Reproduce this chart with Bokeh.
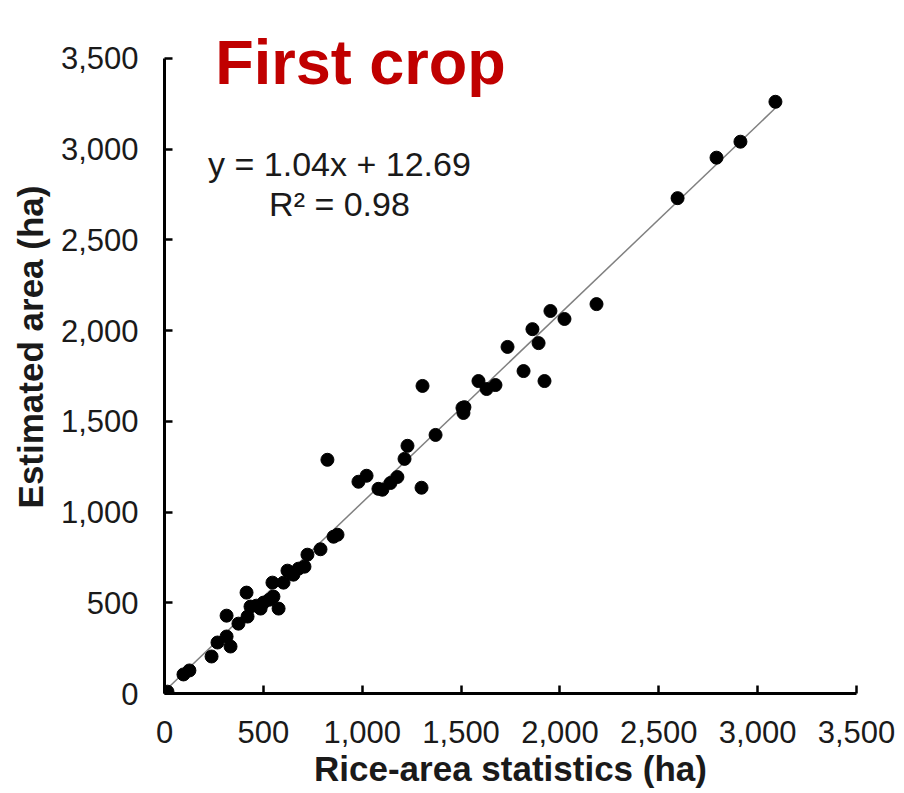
from bokeh.plotting import figure
from bokeh.models import Range1d, FixedTicker, NumeralTickFormatter, Label
from bokeh.embed import file_html
from bokeh.resources import INLINE

# Rice-area statistics (ha) vs estimated area (ha)
stat_area = [0, 15, 96, 126, 238, 268, 314, 334, 314, 374, 420, 415, 435, 465, 486, 501,
             531, 551, 577, 546, 602, 622, 652, 678, 708, 723, 789, 855, 875, 824,
             981, 1022, 1082, 1102, 1143, 1178, 1214, 1229, 1300, 1305, 1371, 1507,
             1517, 1512, 1588, 1629, 1674, 1735, 1816, 1922, 1892, 1861, 1952, 2023,
             2185, 2595, 2792, 2913, 3090]
est_area = [0, 10, 105, 127, 204, 281, 314, 259, 429, 385, 424, 556, 479, 484, 468, 501,
            517, 534, 468, 611, 611, 677, 655, 688, 699, 765, 795, 864, 875, 1288,
            1167, 1200, 1128, 1123, 1160, 1193, 1293, 1365, 1134, 1695, 1425, 1574,
            1578, 1546, 1722, 1678, 1700, 1910, 1777, 1722, 1931, 2008, 2108, 2064,
            2146, 2730, 2953, 3041, 3261]

slope = 1.04
intercept = 12.69
r2 = 0.98
ticks = [0, 500, 1000, 1500, 2000, 2500, 3000, 3500]
axis_max = 3500

FONT = "Liberation Sans"

# frame extends to the top of the canvas so the title is not clipped;
# axis bounds keep the drawn axes at 0..3500
p = figure(width=896, height=790, output_backend="svg", toolbar_location=None,
           x_range=Range1d(0, axis_max), y_range=Range1d(0, axis_max * 694 / 636),
           min_border_left=164, min_border_right=40, min_border_top=0,
           min_border_bottom=96)
p.outline_line_color = None
p.grid.visible = False
p.background_fill_color = "white"

for ax in (p.xaxis[0], p.yaxis[0]):
    ax.ticker = FixedTicker(ticks=ticks)
    ax.formatter = NumeralTickFormatter(format="0,0")
    ax.bounds = (0, axis_max)
    ax.axis_line_width = 3
    ax.axis_line_color = "black"
    ax.major_tick_line_width = 2.5
    ax.major_tick_line_color = "black"
    ax.major_tick_in = 8
    ax.major_tick_out = 0
    ax.minor_tick_line_color = None
    ax.major_label_text_font = FONT
    ax.major_label_text_font_size = "31px"
    ax.major_label_text_color = "#1a1a1a"
    ax.axis_label_text_font = FONT
    ax.axis_label_text_font_size = "35px"
    ax.axis_label_text_font_style = "bold"
    ax.axis_label_text_color = "#1a1a1a"

p.xaxis.axis_label = "Rice-area statistics (ha)"
p.yaxis.axis_label = "Estimated area (ha)"
p.xaxis.major_label_standoff = 27
p.yaxis.major_label_standoff = 26
p.xaxis.axis_label_standoff = 3
p.yaxis.axis_label_standoff = 8

# regression line from stated equation
x0, x1 = min(stat_area), max(stat_area)
p.line([x0, x1], [slope * x0 + intercept, slope * x1 + intercept],
       line_color="#808080", line_width=1.5)

p.scatter(stat_area, est_area, size=13, fill_color="black", line_color="black")

p.add_layout(Label(x=991, y=3478, text="First crop", text_font=FONT,
                   text_font_size="63px", text_font_style="bold",
                   text_color="#C00000", text_align="center",
                   text_baseline="alphabetic"))
p.add_layout(Label(x=885, y=2917, text="y = %.2fx + %.2f" % (slope, intercept),
                   text_font=FONT, text_font_size="34px", text_color="#1a1a1a",
                   text_align="center", text_baseline="alphabetic"))
p.add_layout(Label(x=885, y=2697, text="R\u00b2 = %.2f" % r2, text_font=FONT,
                   text_font_size="34px", text_color="#1a1a1a",
                   text_align="center", text_baseline="alphabetic"))

open("out.html", "w").write(file_html(p, INLINE))
